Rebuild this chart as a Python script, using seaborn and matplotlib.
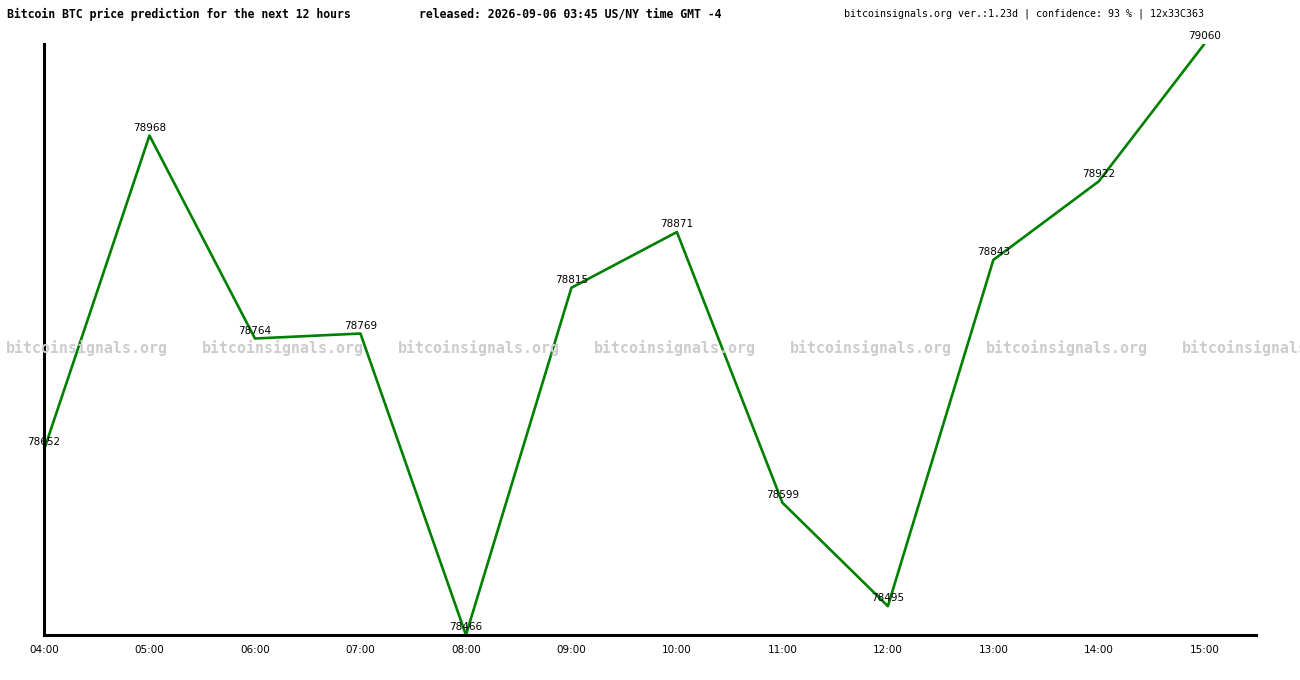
import matplotlib
matplotlib.use("Agg")
import matplotlib.pyplot as plt
import seaborn as sns
import pandas as pd

hours = ["04:00", "05:00", "06:00", "07:00", "08:00", "09:00",
         "10:00", "11:00", "12:00", "13:00", "14:00", "15:00"]
prices = [78652, 78968, 78764, 78769, 78466, 78815,
          78871, 78599, 78495, 78843, 78922, 79060]

title_left = "Bitcoin BTC price prediction for the next 12 hours"
title_mid = "released: 2026-09-06 03:45 US/NY time GMT -4"
title_right = "bitcoinsignals.org ver.:1.23d | confidence: 93 % | 12x33C363"
watermark = "bitcoinsignals.org"

sns.set_style("white")
plt.rcParams["font.family"] = ["DejaVu Sans Mono"]
plt.rcParams["text.color"] = "black"
plt.rcParams["xtick.color"] = "black"

df = pd.DataFrame({"idx": range(len(hours)), "price": prices})

fig = plt.figure(figsize=(13, 6.8), dpi=100)
ax = fig.add_axes([44 / 1300, 45 / 680, 1212 / 1300, 591 / 680])

sns.lineplot(data=df, x="idx", y="price", color="green", linewidth=1.9, ax=ax)

for i, p in zip(df["idx"], df["price"]):
    ax.annotate(str(p), (i, p), xytext=(0, 2), textcoords="offset points",
                ha="center", va="bottom", fontsize=7.5,
                family=["DejaVu Sans"], color="black")

ax.set_xlim(0, 11.49)
ax.set_ylim(min(prices), max(prices))
ax.set_xticks(range(len(hours)))
ax.set_xticklabels(hours, fontsize=7.5, family=["DejaVu Sans"], color="black")
ax.set_yticks([])
ax.tick_params(axis="x", length=0, pad=7)
ax.set_xlabel("")
ax.set_ylabel("")

for s in ["top", "right"]:
    ax.spines[s].set_visible(False)
for s in ["left", "bottom"]:
    ax.spines[s].set_color("black")
    ax.spines[s].set_linewidth(2.2)

# repeated watermark, the last copy runs off the right edge as in the original
for k in range(7):
    fig.text((6 + 196 * k) / 1300, 1 - 348 / 680, watermark, fontsize=10.7,
             color="#cccccc", fontweight="bold", ha="left", va="center")

fig.text(7 / 1300, 1 - 14 / 680, title_left, fontsize=8.3, fontweight="bold",
         ha="left", va="center", color="black")
fig.text(419 / 1300, 1 - 14 / 680, title_mid, fontsize=8.3, fontweight="bold",
         ha="left", va="center", color="black")
fig.text(1204 / 1300, 1 - 14 / 680, title_right, fontsize=7.2,
         ha="right", va="center", color="black")

fig.savefig("out.png", dpi=100)
